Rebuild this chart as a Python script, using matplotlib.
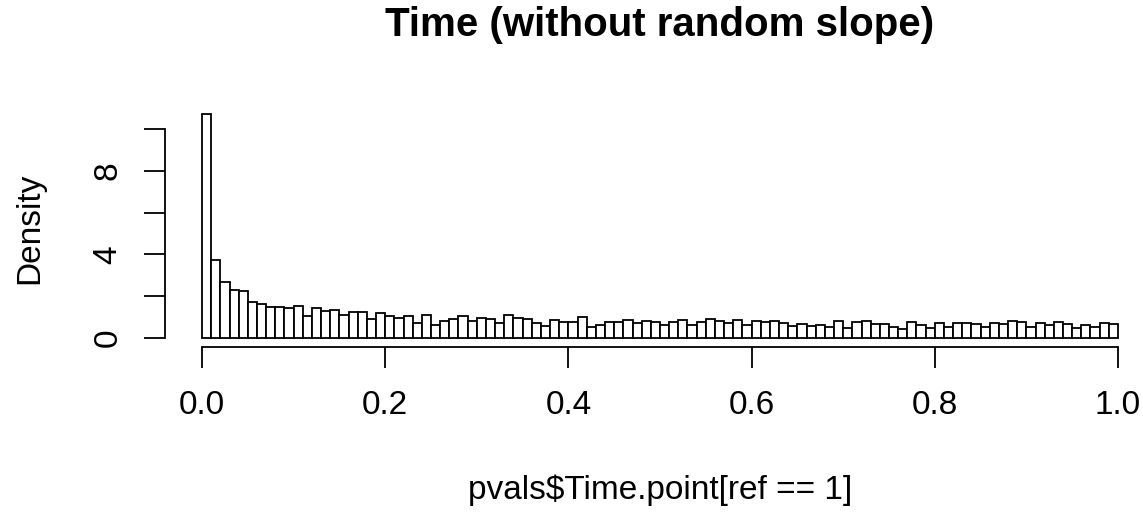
import numpy as np
import matplotlib
matplotlib.use("Agg")
import matplotlib.pyplot as plt

plt.rcParams['font.family'] = ['Liberation Sans', 'DejaVu Sans']

# histogram of p-values, 100 bins on [0, 1], density scale
bin_edges = np.linspace(0, 1, 101)
density = [
    10.72, 3.73, 2.69, 2.29, 2.24, 1.73, 1.63, 1.49, 1.49, 1.44,
    1.50, 1.04, 1.40, 1.28, 1.33, 1.09, 1.25, 1.22, 0.90, 1.17,
    1.04, 0.96, 1.06, 0.72, 1.09, 0.61, 0.82, 0.91, 1.06, 0.82,
    0.94, 0.90, 0.72, 1.07, 0.96, 0.90, 0.72, 0.58, 0.84, 0.75,
    0.75, 0.98, 0.50, 0.59, 0.74, 0.75, 0.85, 0.69, 0.82, 0.77,
    0.62, 0.77, 0.86, 0.62, 0.74, 0.90, 0.82, 0.72, 0.86, 0.59,
    0.80, 0.77, 0.80, 0.69, 0.56, 0.66, 0.56, 0.62, 0.50, 0.80,
    0.48, 0.74, 0.80, 0.67, 0.64, 0.51, 0.40, 0.77, 0.61, 0.48,
    0.72, 0.53, 0.69, 0.72, 0.66, 0.53, 0.72, 0.64, 0.78, 0.77,
    0.51, 0.69, 0.62, 0.77, 0.66, 0.48, 0.61, 0.50, 0.69, 0.66,
]
x_ticks = [0.0, 0.2, 0.4, 0.6, 0.8, 1.0]
x_labels = ['0.0', '0.2', '0.4', '0.6', '0.8', '1.0']
y_ticks = [0, 2, 4, 6, 8, 10]
y_labels = ['0', '', '4', '', '8', '']

W, H = 1143, 512
fig = plt.figure(figsize=(W / 100, H / 100), dpi=100)

# plot region in pixels (R style, 4% axis extension)
left, right, top, bottom = 165.4, 1154.6, 105.3, 346.6
ax = fig.add_axes([left / W, 1 - bottom / H, (right - left) / W, (bottom - top) / H])

ax.bar(bin_edges[:-1], density, width=0.01, align='edge',
       facecolor='white', edgecolor='black', linewidth=1.3)

ymax = max(density)
ax.set_xlim(-0.04, 1.04)
ax.set_ylim(-0.04 * ymax, 1.04 * ymax)

for s in ['top', 'right']:
    ax.spines[s].set_visible(False)
ax.spines['bottom'].set_bounds(0, 1)
ax.spines['left'].set_bounds(0, 10)
ax.spines['bottom'].set_linewidth(1.3)
ax.spines['left'].set_linewidth(1.3)

ax.set_xticks(x_ticks)
ax.set_xticklabels(x_labels, fontsize=24)
ax.set_yticks(y_ticks)
ax.set_yticklabels(y_labels, fontsize=24, rotation=90, va='center')
ax.tick_params(axis='both', direction='out', length=15, width=1.3)
ax.tick_params(axis='x', pad=16)
ax.tick_params(axis='y', pad=15)

fig.text(660 / W, 1 - 36 / H, 'Time (without random slope)', fontsize=29,
         fontweight='bold', ha='center', va='baseline')
fig.text(660 / W, 1 - 490 / H, 'pvals$Time.point[ref == 1]', fontsize=24,
         ha='center', va='center')
fig.text(30 / W, 1 - 228 / H, 'Density', fontsize=24, rotation=90,
         ha='center', va='center')

fig.savefig('out.png', dpi=100)
